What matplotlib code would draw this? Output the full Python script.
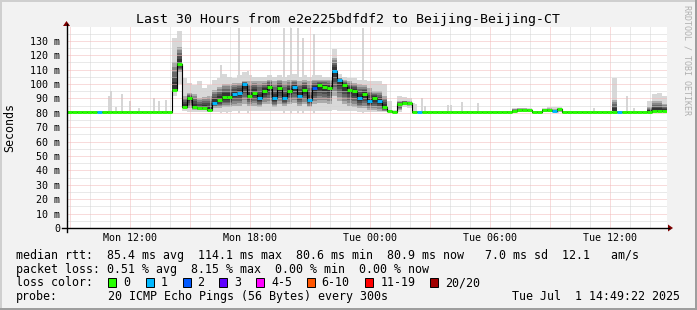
import numpy as np
import matplotlib
matplotlib.use("Agg")
import matplotlib.pyplot as plt
from matplotlib.lines import Line2D
from matplotlib.patches import Rectangle, Polygon

plt.rcParams['font.family'] = ['DejaVu Sans Mono']

W, H = 697, 310

# ---------------- data ----------------
t_start = 8.8228          # Mon 08:49:22 (hours since Mon 00:00)
step_h = 0.25             # one sample every 15 min

median_ms = [
    80.7, 80.7, 80.6, 80.7, 80.7, 80.6, 80.7, 80.6, 80.7, 80.7,
    80.6, 80.8, 80.7, 80.6, 80.7, 80.7, 80.6, 80.7, 80.7, 80.8,
    80.8, 96, 114, 84, 90, 84, 83, 83, 82, 87,
    89, 91, 91, 93, 94, 100, 92, 94, 90, 95,
    98, 90, 97, 90, 95, 98, 92, 96, 89, 97,
    99, 98, 97, 109, 103, 99, 96, 95, 90, 93,
    88, 90, 88, 84, 80.9, 80.8, 86, 87, 87, 80.8,
    80.7, 80.7, 80.6, 80.7, 80.7, 80.6, 80.7, 80.7, 80.6, 80.7,
    80.8, 80.7, 80.6, 80.7, 80.7, 80.6, 80.7, 80.7, 80.8, 81.5,
    82.0, 81.9, 81.6, 80.8, 80.8, 82.0, 81.8, 81.2, 82.5, 80.7,
    80.7, 80.6, 80.7, 80.7, 80.6, 80.7, 80.7, 80.6, 80.7, 80.8,
    80.8, 80.7, 80.7, 80.6, 80.7, 80.7, 80.8, 81.2, 81.3, 81.0,
]

loss_count = [
    0, 0, 0, 0, 0, 0, 1, 0, 0, 0,
    0, 0, 0, 0, 0, 0, 0, 0, 0, 0,
    0, 0, 0, 0, 0, 0, 0, 0, 0, 1,
    0, 0, 0, 1, 1, 1, 0, 0, 1, 0,
    0, 1, 0, 1, 0, 1, 1, 0, 1, 2,
    0, 0, 0, 1, 1, 0, 0, 0, 1, 0,
    1, 0, 1, 0, 0, 0, 0, 0, 0, 0,
    1, 0, 0, 0, 0, 0, 0, 0, 0, 0,
    0, 0, 0, 0, 0, 0, 0, 0, 0, 0,
    0, 0, 0, 0, 0, 0, 0, 1, 0, 0,
    0, 0, 0, 0, 0, 0, 0, 0, 0, 0,
    1, 0, 0, 0, 0, 0, 0, 0, 0, 0,
]

smoke_min = [
    80.3, 80.3, 80.3, 80.3, 80.3, 80.3, 80.3, 80.3, 80.3, 80.3,
    80.3, 80.3, 80.3, 80.3, 80.3, 80.3, 80.3, 80.3, 80.3, 80.3,
    80.3, 92, 100, 81, 80.8, 80.8, 80.6, 80.6, 80.6, 80.6,
    80.6, 80.6, 80.6, 81, 81, 81, 81, 81, 81, 81,
    81, 81, 81, 81, 81, 81, 81, 81, 81, 81,
    81, 81, 81, 82, 81, 81, 81, 81, 80.8, 80.8,
    80.6, 80.6, 80.5, 80.4, 80.3, 80.3, 80.5, 84, 83, 80.3,
    80.3, 80.3, 80.3, 80.3, 80.3, 80.3, 80.3, 80.3, 80.3, 80.3,
    80.3, 80.3, 80.3, 80.3, 80.3, 80.3, 80.3, 80.3, 80.3, 80.3,
    80.3, 80.3, 80.3, 80.3, 80.3, 80.3, 80.3, 80.3, 80.3, 80.3,
    80.3, 80.3, 80.3, 80.3, 80.3, 80.3, 80.3, 80.3, 80.3, 80.3,
    80.3, 80.3, 80.3, 80.3, 80.3, 80.3, 80.3, 80.3, 80.3, 80.3,
]

smoke_lo = [
    80.5, 80.5, 80.5, 80.5, 80.5, 80.5, 80.5, 80.5, 80.5, 80.5,
    80.5, 80.5, 80.5, 80.5, 80.5, 80.5, 80.5, 80.5, 80.5, 80.5,
    80.5, 95, 108, 83, 83, 82, 82, 82, 82, 83,
    83, 84, 84, 85, 85, 86, 85, 85, 84, 86,
    86, 84, 86, 85, 86, 87, 85, 86, 84, 86,
    87, 87, 86, 92, 88, 86, 85, 84, 83, 83,
    82, 82, 81.5, 81, 80.6, 80.6, 82, 85.5, 85, 80.6,
    80.5, 80.5, 80.5, 80.5, 80.5, 80.5, 80.5, 80.5, 80.5, 80.5,
    80.5, 80.5, 80.5, 80.5, 80.5, 80.5, 80.5, 80.5, 80.5, 80.8,
    80.8, 80.8, 80.8, 80.5, 80.5, 80.8, 80.8, 80.8, 80.8, 80.5,
    80.5, 80.5, 80.5, 80.5, 80.5, 80.5, 80.5, 80.5, 80.5, 81,
    80.5, 80.5, 80.5, 80.5, 80.5, 80.5, 80.8, 80.8, 80.8, 80.8,
]

smoke_hi = [
    81.0, 81.0, 81.0, 81.0, 81.0, 81.0, 81.0, 81.0, 81.0, 81.0,
    81.0, 81.0, 81.0, 81.0, 81.0, 81.0, 81.0, 81.0, 81.0, 81.0,
    81.0, 115, 126, 92, 94, 93, 90, 91, 92, 96,
    98, 100, 100, 101, 101, 102, 102, 102, 102, 102,
    103, 102, 103, 102, 103, 103, 102, 103, 102, 103,
    103, 103, 103, 118, 104, 103, 102, 101, 100, 99,
    97, 95, 95, 92, 82, 81.2, 88, 88.5, 88, 81.5,
    81.0, 81.0, 81.0, 81.0, 81.0, 81.0, 81.0, 81.0, 81.0, 81.0,
    81.0, 81.0, 81.0, 81.0, 81.0, 81.0, 81.0, 81.0, 81.0, 82.5,
    83, 83, 82.5, 81.0, 81.0, 82.5, 83, 82.5, 83, 81.0,
    81.0, 81.0, 81.0, 81.0, 81.0, 81.0, 81.0, 81.0, 81.0, 89,
    81.0, 81.0, 81.0, 81.0, 81.0, 81.0, 84, 88, 88, 86,
]

smoke_max = [
    81.4, 81.4, 81.4, 81.4, 81.4, 81.4, 81.4, 81.4, 81.4, 81.4,
    81.4, 81.4, 81.4, 81.4, 81.4, 81.4, 81.4, 81.4, 81.4, 81.4,
    81.4, 132, 137, 104, 101, 99, 102, 97, 99, 103,
    104, 107, 105, 104, 106, 108, 106, 105, 105, 105,
    106, 105, 106, 105, 106, 107, 105, 106, 105, 106,
    106, 105, 105, 124, 107, 105, 104, 104, 103, 103,
    102, 102, 102, 100, 88, 82, 92, 91, 90, 86,
    81.4, 81.4, 81.4, 81.4, 81.4, 81.4, 81.4, 81.4, 81.4, 81.4,
    81.4, 81.4, 81.4, 81.4, 81.4, 81.4, 81.4, 81.4, 81.4, 83,
    83.5, 83.5, 83, 81.4, 81.4, 83, 84, 84, 84, 81.4,
    81.4, 81.4, 81.4, 81.4, 81.4, 81.4, 81.4, 81.4, 81.4, 104,
    81.4, 81.4, 81.4, 81.4, 81.4, 81.4, 88, 93, 94, 92,
]

# single-ping outliers (hour, ms)
spike_hour = [10.95, 11.05, 11.3, 11.6, 12.0, 12.45, 13.2, 13.45, 13.8,
              16.54, 16.84, 17.43, 17.88, 19.68, 20.03, 20.39, 20.64, 21.18, 23.64,
              26.19, 26.59, 26.74, 27.89, 28.04, 28.59, 29.39, 33.39, 35.19, 36.84, 37.19]
spike_ms = [92, 95, 84, 93, 88, 83, 90, 88, 89,
            113, 105, 139, 109, 139, 139, 139, 132, 135, 139,
            87, 90, 85, 85.5, 85.5, 87.5, 86.7, 84, 83.5, 92, 83]

loss_labels = ["0", "1", "2", "3", "4-5", "6-10", "11-19", "20/20"]
loss_colors = ["#26ff00", "#00b8ff", "#0059ff", "#5e00ff",
               "#ff00ff", "#ff5500", "#ff0000", "#a10000"]

x_tick_hours = [12, 18, 24, 30, 36]
x_tick_labels = ["Mon 12:00", "Mon 18:00", "Tue 00:00", "Tue 06:00", "Tue 12:00"]
y_tick_values = [0, 10, 20, 30, 40, 50, 60, 70, 80, 90, 100, 110, 120, 130]

title = "Last 30 Hours from e2e225bdfdf2 to Beijing-Beijing-CT"
stat_line1 = "median rtt:  85.4 ms avg  114.1 ms max  80.6 ms min  80.9 ms now   7.0 ms sd  12.1   am/s"
stat_line2 = "packet loss: 0.51 % avg  8.15 % max  0.00 % min  0.00 % now"
probe_text = "20 ICMP Echo Pings (56 Bytes) every 300s"
stamp_text = "Tue Jul  1 14:49:22 2025"

# ---------------- figure ----------------
def fx(px):
    return px / W

def fy(py):
    return 1 - py / H

fig = plt.figure(figsize=(W / 100, H / 100), dpi=100, facecolor="#f2f2f2")

# 3D-ish border
fig.add_artist(Rectangle((0, fy(2)), 1, 2 / H, transform=fig.transFigure, color="#cfcfcf", lw=0))
fig.add_artist(Rectangle((0, 0), 2 / W, 1, transform=fig.transFigure, color="#cfcfcf", lw=0))
fig.add_artist(Rectangle((0, 0), 1, 2 / H, transform=fig.transFigure, color="#9e9e9e", lw=0))
fig.add_artist(Rectangle((fx(695), 0), 2 / W, 1, transform=fig.transFigure, color="#9e9e9e", lw=0))

ax = fig.add_axes([fx(66.5), fy(228), 600 / W, (228 - 27.4) / H])
ax.set_facecolor("white")
n = len(median_ms)
t_edges = t_start + step_h * np.arange(n + 1)
ax.set_xlim(t_start, t_start + 30)
ax.set_ylim(0, 139.3)

med = np.array(median_ms, dtype=float)
smin = np.array(smoke_min, dtype=float)
slo = np.array(smoke_lo, dtype=float)
shi = np.array(smoke_hi, dtype=float)
smax = np.array(smoke_max, dtype=float)

def pad(a):
    return np.r_[a, a[-1]]

# outliers
sh = np.array(spike_hour)
sv = np.array(spike_ms)
ax.bar(sh, sv - 80, bottom=80, width=0.1, color="#d6d6d6", lw=0, zorder=1.5)

# smoke
ax.fill_between(t_edges, pad(smin), pad(smax), step="post", color="#d8d8d8", lw=0, zorder=2)
mc = np.clip(med, slo, shi)
shades = ["#ababab", "#888888", "#686868", "#4c4c4c", "#343434"]
for k, c in enumerate(shades):
    f = k / (len(shades) + 0.5)
    lo = slo + (mc - slo) * f
    hi = shi - (shi - mc) * f
    ax.fill_between(t_edges, pad(lo), pad(hi), step="post", color=c, lw=0, zorder=2 + 0.01 * k)

# grid
dot = (0, (1, 1))
for h in range(9, 39):
    c = "#f2b8b8" if h % 3 == 0 else "#d4d4d4"
    ax.axvline(h, color=c, lw=0.72, ls=dot, zorder=3)
for v in range(5, 139, 5):
    c = "#f2b8b8" if v % 10 == 0 else "#d4d4d4"
    ax.axhline(v, color=c, lw=0.72, ls=dot, zorder=3)

# median
ax.step(t_edges, pad(med), where="post", color="black", lw=0.8, zorder=4)

def loss_idx(c):
    if c <= 3:
        return c
    if c <= 5:
        return 4
    if c <= 10:
        return 5
    if c <= 19:
        return 6
    return 7

seg_colors = [loss_colors[loss_idx(c)] for c in loss_count]
ax.hlines(med, t_edges[:-1], t_edges[1:], colors=seg_colors, lw=2.1, zorder=5)

# ticks
for s in ax.spines.values():
    s.set_visible(False)
ax.set_xticks(x_tick_hours)
ax.set_xticklabels(x_tick_labels, fontsize=7.2)
ax.set_yticks(y_tick_values)
ax.set_yticklabels([("%d m" % v) if v else "0" for v in y_tick_values], fontsize=7.2)
ax.tick_params(axis="x", length=0, pad=3.9)
ax.tick_params(axis="y", length=0, pad=4.7)

# axes lines and arrows
fig.add_artist(Line2D([fx(62), fx(669)], [fy(228), fy(228)], color="black", lw=1.0, transform=fig.transFigure))
fig.add_artist(Line2D([fx(66.5), fx(66.5)], [fy(232), fy(24)], color="black", lw=1.0, transform=fig.transFigure))
fig.add_artist(Polygon([(fx(668), fy(224.5)), (fx(668), fy(231.5)), (fx(673), fy(228))],
                       closed=True, transform=fig.transFigure, color="#7f0000", lw=0))
fig.add_artist(Polygon([(fx(63), fy(26)), (fx(70), fy(26)), (fx(66.5), fy(21))],
                       closed=True, transform=fig.transFigure, color="#7f0000", lw=0))

# texts
fig.text(fx(348), fy(23), title, ha="center", va="baseline", fontsize=9.5)
fig.text(fx(10), fy(128), "Seconds", rotation=90, ha="center", va="center", fontsize=8.4)
fig.text(fx(687), fy(5), "RRDTOOL / TOBI OETIKER", rotation=270, ha="center", va="top",
         fontsize=6, color="#b0b0b0")

fs = 8.4
fig.text(fx(16), fy(259), stat_line1, fontsize=fs, va="baseline")
fig.text(fx(16), fy(272.5), stat_line2, fontsize=fs, va="baseline")
fig.text(fx(16), fy(286.5), "loss color:", fontsize=fs, va="baseline")
box_x = [108, 145.8, 182.5, 219, 256.4, 306.7, 365.3, 429.8]
for bx, lab, col in zip(box_x, loss_labels, loss_colors):
    fig.add_artist(Rectangle((fx(bx), fy(286.5)), 8 / W, 9 / H, transform=fig.transFigure,
                             facecolor=col, edgecolor="black", lw=0.7))
    fig.text(fx(bx + 15), fy(286.5), lab, fontsize=fs, va="baseline")
fig.text(fx(16), fy(300), "probe:", fontsize=fs, va="baseline")
fig.text(fx(108), fy(300), probe_text, fontsize=fs, va="baseline")
fig.text(fx(680), fy(300), stamp_text, fontsize=fs, va="baseline", ha="right")

fig.savefig("out.png", dpi=100, facecolor=fig.get_facecolor())
